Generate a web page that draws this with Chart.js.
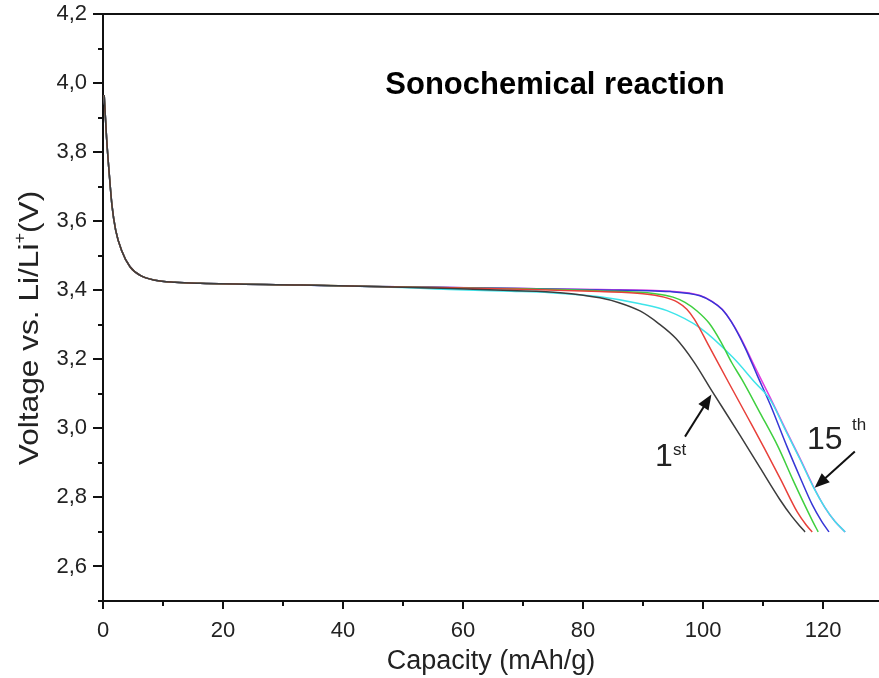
<!DOCTYPE html>
<html>
<head>
<meta charset="utf-8">
<script src="https://cdn.jsdelivr.net/npm/chart.js@4.4.0/dist/chart.umd.min.js"></script>
<style>
  body { margin: 0; background: #fff; }
  #wrap { width: 879px; height: 678px; position: relative; }
</style>
</head>
<body>
<div id="wrap"><canvas id="chart"></canvas></div>
<script>
// initial drop + start of plateau, shared by all cycles (the curves overlap here)
const headCap = [0.2, 0.6, 1.05, 1.5, 2.1, 3.1, 4.5, 6.2, 8.7, 12, 16.2, 33, 45];
const headV   = [3.965, 3.84, 3.735, 3.645, 3.575, 3.515, 3.468, 3.443, 3.429, 3.423, 3.420, 3.415, 3.411];

// rest of each cycle (capacity mAh/g, voltage V)
const cap1  = [58, 68, 76.2, 82.8, 86, 89.5, 92.5, 95.5, 98.5, 101.5, 106.2, 109.5, 112.8, 114.8, 116.2, 117.0];
const volt1 = [3.405, 3.399, 3.393, 3.378, 3.364, 3.34, 3.305, 3.26, 3.192, 3.108, 2.979, 2.886, 2.794, 2.745, 2.716, 2.70];

const cap2  = [58, 70, 82.8, 90, 93.5, 95.8, 97.3, 98.6, 101.0, 104.2, 107.5, 110.3, 113.0, 115.7, 117.2, 118.2];
const volt2 = [3.407, 3.403, 3.396, 3.39, 3.38, 3.365, 3.345, 3.315, 3.238, 3.135, 3.03, 2.94, 2.85, 2.758, 2.72, 2.70];

const cap3  = [58, 70, 82.8, 92, 95, 97, 99, 101, 103, 104.8, 106.5, 109.5, 112.5, 115, 117, 118.3, 119.2];
const volt3 = [3.407, 3.404, 3.398, 3.39, 3.38, 3.365, 3.34, 3.305, 3.25, 3.19, 3.141, 3.045, 2.947, 2.85, 2.776, 2.73, 2.70];

const cap4  = [58, 70, 82.8, 94.5, 99.5, 101.5, 103.2, 104.7, 107, 109, 111.2, 114, 116.2, 118.2, 119.8, 121];
const volt4 = [3.408, 3.405, 3.401, 3.396, 3.384, 3.367, 3.344, 3.309, 3.234, 3.155, 3.069, 2.947, 2.857, 2.779, 2.73, 2.70];

const cap5  = [58, 70, 82.8, 94.5, 99.5, 101.5, 103.2, 104.7, 106.2, 108.7, 111.2, 113.7, 116.2, 118.5, 120.3, 122.0, 123.7];
const volt5 = [3.408, 3.405, 3.402, 3.397, 3.385, 3.368, 3.345, 3.31, 3.265, 3.176, 3.089, 2.999, 2.912, 2.828, 2.771, 2.73, 2.70];

const cap15  = [57.8, 68, 74.5, 82.8, 89.5, 94.0, 99.5, 105.0, 108.7, 111.2, 113.7, 116.2, 118.5, 120.3, 122.0, 123.7];
const volt15 = [3.402, 3.397, 3.393, 3.381, 3.361, 3.341, 3.291, 3.205, 3.132, 3.083, 2.996, 2.909, 2.826, 2.771, 2.73, 2.70];

const xTickLabels = ['0', '20', '40', '60', '80', '100', '120'];
const yTickLabels = ['2,6', '2,8', '3,0', '3,2', '3,4', '3,6', '3,8', '4,0', '4,2'];

function pts(cap, volt) {
    const c = headCap.concat(cap);
    const v = headV.concat(volt);
    return c.map((x, i) => ({ x: x, y: v[i] }));
}

const FONT = 'Liberation Sans, Arial, sans-serif';

const decor = {
    id: 'decor',
    afterDraw(chart) {
        const ctx = chart.ctx;
        const xs = chart.scales.x, ys = chart.scales.y;
        const area = chart.chartArea;
        ctx.save();
        ctx.strokeStyle = '#111';
        ctx.fillStyle = '#111';
        ctx.lineWidth = 2;
        // top frame line
        ctx.beginPath();
        ctx.moveTo(area.left - 10, area.top);
        ctx.lineTo(area.right, area.top);
        ctx.stroke();
        // x ticks, major every 20, minor every 10
        for (let v = 0; v <= 129; v += 10) {
            const px = Math.round(xs.getPixelForValue(v));
            const len = (v % 20 === 0) ? 8 : 5;
            ctx.beginPath();
            ctx.moveTo(px, area.bottom);
            ctx.lineTo(px, area.bottom + len);
            ctx.stroke();
        }
        // y ticks, major every 0.2, minor every 0.1
        for (let k = 25; k <= 42; k++) {
            const py = Math.round(ys.getPixelForValue(k / 10));
            const len = (k % 2 === 0) ? 10 : 5;
            ctx.beginPath();
            ctx.moveTo(area.left, py);
            ctx.lineTo(area.left - len, py);
            ctx.stroke();
        }
        // title
        ctx.fillStyle = '#000';
        ctx.font = 'bold 31px ' + FONT;
        ctx.textAlign = 'center';
        ctx.textBaseline = 'alphabetic';
        ctx.fillText('Sonochemical reaction', 555, 94);

        // y axis title with superscript
        ctx.fillStyle = '#222';
        ctx.save();
        ctx.translate(38, 328);
        ctx.rotate(-Math.PI / 2);
        ctx.scale(1.13, 1);
        const big = '28px ' + FONT, small = '16px ' + FONT;
        const a = 'Voltage vs. Li/Li', b = '+', c = '(V)';
        ctx.font = big; const wa = ctx.measureText(a).width, wc = ctx.measureText(c).width;
        ctx.font = small; const wb = ctx.measureText(b).width;
        let x0 = -(wa + wb + wc) / 2;
        ctx.textAlign = 'left';
        ctx.font = big; ctx.fillText(a, x0, 0);
        ctx.font = small; ctx.fillText(b, x0 + wa, -13);
        ctx.font = big; ctx.fillText(c, x0 + wa + wb, 0);
        ctx.restore();

        // annotation arrows
        ctx.fillStyle = '#111';
        function arrow(x1, y1, x2, y2) {
            const p1x = xs.getPixelForValue(x1), p1y = ys.getPixelForValue(y1);
            const p2x = xs.getPixelForValue(x2), p2y = ys.getPixelForValue(y2);
            const ang = Math.atan2(p2y - p1y, p2x - p1x);
            const hl = 15, hw = 6;
            ctx.lineWidth = 2;
            ctx.beginPath();
            ctx.moveTo(p1x, p1y);
            ctx.lineTo(p2x - Math.cos(ang) * hl * 0.8, p2y - Math.sin(ang) * hl * 0.8);
            ctx.stroke();
            ctx.beginPath();
            ctx.moveTo(p2x, p2y);
            ctx.lineTo(p2x - Math.cos(ang) * hl - Math.sin(ang) * hw, p2y - Math.sin(ang) * hl + Math.cos(ang) * hw);
            ctx.lineTo(p2x - Math.cos(ang) * hl + Math.sin(ang) * hw, p2y - Math.sin(ang) * hl - Math.cos(ang) * hw);
            ctx.closePath();
            ctx.fill();
        }
        arrow(97.0, 2.976, 101.4, 3.098);
        arrow(125.3, 2.933, 118.6, 2.828);

        // annotation labels
        ctx.fillStyle = '#222';
        ctx.textAlign = 'left';
        ctx.font = '32px ' + FONT;
        ctx.fillText('1', 655, 466);
        ctx.font = '17px ' + FONT;
        ctx.fillText('st', 673, 455);
        ctx.font = '32px ' + FONT;
        ctx.fillText('15', 807, 449);
        ctx.font = '17px ' + FONT;
        ctx.fillText('th', 852, 430);
        ctx.restore();
    }
};

const ds = (label, cap, volt, color) => ({
    label: label,
    data: pts(cap, volt),
    borderColor: color,
    borderWidth: 1.5,
    pointRadius: 0,
    showLine: true,
    cubicInterpolationMode: 'monotone',
    fill: false
});

function noPad(s) {
    s.paddingTop = 0; s.paddingBottom = 0;
    s.paddingLeft = 0; s.paddingRight = 0;
}

new Chart(document.getElementById('chart'), {
    type: 'scatter',
    data: {
        datasets: [
            ds('1st', cap1, volt1, '#3c3c3c'),
            ds('cycle 2', cap2, volt2, '#e8403a'),
            ds('cycle 3', cap3, volt3, '#3fcf3f'),
            ds('15th', cap15, volt15, '#3ee4ea'),
            ds('cycle 4', cap4, volt4, '#3636d6'),
            ds('cycle 5', cap5, volt5, '#e23ce0')
        ]
    },
    options: {
        responsive: true,
        maintainAspectRatio: false,
        animation: false,
        layout: { padding: { top: 14, right: 0, left: 0, bottom: 0 } },
        plugins: {
            legend: { display: false },
            tooltip: { enabled: false }
        },
        scales: {
            x: {
                type: 'linear',
                min: 0,
                max: 129.33,
                afterFit: s => { s.height = 77; noPad(s); },
                afterBuildTicks: s => {
                    s.ticks = xTickLabels.map(t => ({ value: Number(t) }));
                },
                ticks: {
                    color: '#222',
                    font: { family: FONT, size: 22 },
                    padding: 17,
                    maxRotation: 0,
                    callback: v => String(v)
                },
                grid: { display: false, drawTicks: false, tickLength: 0 },
                border: { display: true, color: '#111', width: 2 },
                title: {
                    display: true,
                    text: 'Capacity (mAh/g)',
                    color: '#222',
                    font: { family: FONT, size: 27 },
                    padding: { top: 0, bottom: 0 }
                }
            },
            y: {
                type: 'linear',
                min: 2.5,
                max: 4.2,
                afterFit: s => { s.width = 103; noPad(s); },
                afterBuildTicks: s => {
                    s.ticks = yTickLabels.map(t => ({ value: Number(t.replace(',', '.')) }));
                },
                ticks: {
                    color: '#222',
                    font: { family: FONT, size: 22 },
                    padding: 16,
                    callback: v => v.toFixed(1).replace('.', ',')
                },
                grid: { display: false, drawTicks: false, tickLength: 0 },
                border: { display: true, color: '#111', width: 2 }
            }
        }
    },
    plugins: [decor]
});
</script>
</body>
</html>
